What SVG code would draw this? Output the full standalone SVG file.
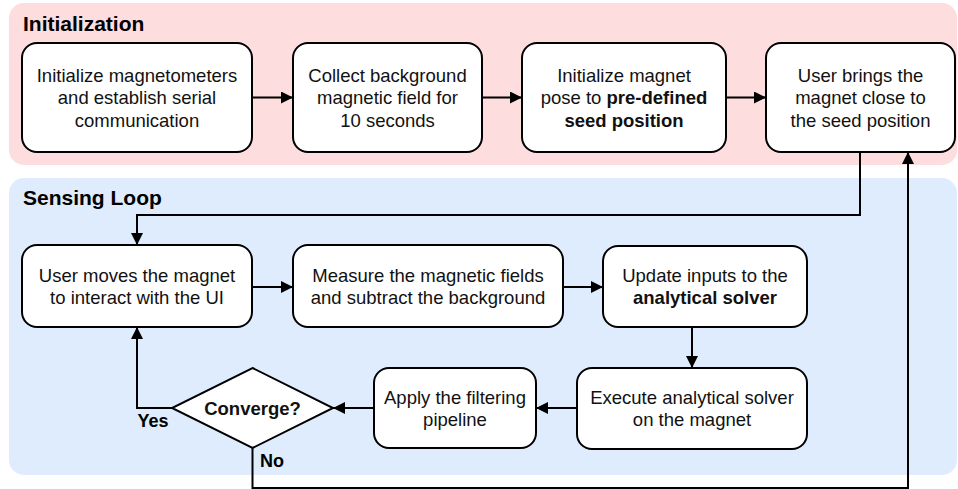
<svg xmlns="http://www.w3.org/2000/svg" width="958" height="489" viewBox="0 0 958 489">
<defs>
<marker id="ah" markerUnits="userSpaceOnUse" markerWidth="12" markerHeight="12" refX="12" refY="6" orient="auto">
<path d="M0,0 L12,6 L0,12 Z" fill="#000"/>
</marker>
<style>
.panel-init{fill:#fddddd;}
.panel-loop{fill:#deecfd;}
.box{fill:#fff;stroke:#000;stroke-width:2;}
.title{font-family:"Liberation Sans",Arial,sans-serif;font-size:21px;font-weight:bold;fill:#000;}
.t{font-family:"Liberation Sans",Arial,sans-serif;font-size:18.5px;fill:#111;text-anchor:middle;}
.b{font-weight:bold;}
.lbl{font-family:"Liberation Sans",Arial,sans-serif;font-size:18px;font-weight:bold;fill:#000;}
.c{fill:none;stroke:#000;stroke-width:2;marker-end:url(#ah);}
</style>
</defs>
<rect class="panel-init" x="9" y="3" width="948" height="162" rx="15"/>
<rect class="panel-loop" x="9" y="178" width="948" height="297" rx="15"/>
<text class="title" x="23" y="31">Initialization</text>
<text class="title" x="23" y="205">Sensing Loop</text>

<g id="connectors">
<path class="c" d="M252,97.5 L293,97.5"/>
<path class="c" d="M482,97.5 L522,97.5"/>
<path class="c" d="M726,97.5 L766,97.5"/>
<path class="c" d="M860,152 L860,215 L137,215 L137,245"/>
<path class="c" d="M252,287 L293,287"/>
<path class="c" d="M563,287 L603,287"/>
<path class="c" d="M692,327 L692,368"/>
<path class="c" d="M577,408 L536,408"/>
<path class="c" d="M374,408 L333,408"/>
<path class="c" d="M172,408 L137,408 L137,327"/>
<path class="c" d="M252.5,448 L252.5,488 L908,488 L908,152"/>
<text class="lbl" x="153" y="427" text-anchor="middle">Yes</text>
<text class="lbl" x="260" y="467">No</text>
</g>

<g id="n1">
<rect class="box" x="22" y="43" width="230" height="109" rx="15"/>
<text class="t" x="137" y="82">Initialize magnetometers</text>
<text class="t" x="137" y="104">and establish serial</text>
<text class="t" x="137" y="126.5">communication</text>
</g>
<g id="n2">
<rect class="box" x="293" y="43" width="189" height="109" rx="15"/>
<text class="t" x="387.5" y="82">Collect background</text>
<text class="t" x="387.5" y="104">magnetic field for</text>
<text class="t" x="387.5" y="126.5">10 seconds</text>
</g>
<g id="n3">
<rect class="box" x="522" y="43" width="204" height="109" rx="15"/>
<text class="t" x="624" y="82">Initialize magnet</text>
<text class="t" x="624" y="104">pose to <tspan class="b">pre-defined</tspan></text>
<text class="t b" x="624" y="126.5">seed position</text>
</g>
<g id="n4">
<rect class="box" x="766" y="43" width="189" height="109" rx="15"/>
<text class="t" x="860.5" y="82">User brings the</text>
<text class="t" x="860.5" y="104">magnet close to</text>
<text class="t" x="860.5" y="126.5">the seed position</text>
</g>
<g id="n5">
<rect class="box" x="22" y="245" width="230" height="82" rx="15"/>
<text class="t" x="137" y="281.5">User moves the magnet</text>
<text class="t" x="137" y="303.5">to interact with the UI</text>
</g>
<g id="n6">
<rect class="box" x="293" y="245" width="270" height="82" rx="15"/>
<text class="t" x="428" y="281.5">Measure the magnetic fields</text>
<text class="t" x="428" y="303.5">and subtract the background</text>
</g>
<g id="n7">
<rect class="box" x="603" y="246" width="204" height="81" rx="15"/>
<text class="t" x="705" y="281.5">Update inputs to the</text>
<text class="t b" x="705" y="303.5">analytical solver</text>
</g>
<g id="n8">
<rect class="box" x="577" y="368" width="230" height="81" rx="15"/>
<text class="t" x="692" y="403.5">Execute analytical solver</text>
<text class="t" x="692" y="425.5">on the magnet</text>
</g>
<g id="n9">
<rect class="box" x="374" y="368" width="162" height="80" rx="15"/>
<text class="t" x="455" y="403.5">Apply the filtering</text>
<text class="t" x="455" y="425.5">pipeline</text>
</g>
<g id="n10">
<path class="box" d="M252.5,368 L333,408 L252.5,448 L172,408 Z"/>
<text class="t b" x="252.5" y="414.5">Converge?</text>
</g>
</svg>
